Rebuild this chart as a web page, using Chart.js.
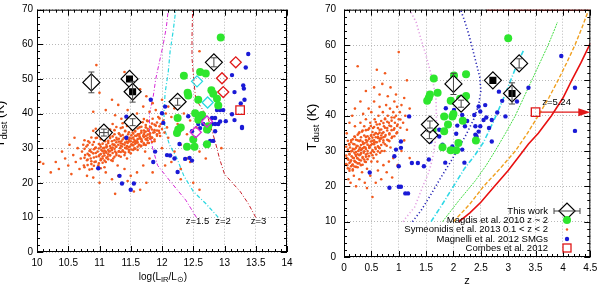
<!DOCTYPE html>
<html>
<head>
<meta charset="utf-8">
<script src="https://cdn.jsdelivr.net/npm/chart.js@4"></script>
<style>
  body { margin: 0; background: #fff; }
  canvas { position: absolute; top: 0; }
</style>
</head>
<body>
<canvas id="lumChart" width="300" height="284" style="left:0"></canvas>
<canvas id="zChart" width="300" height="284" style="left:300px"></canvas>
<script>
// ---------- tick labels ----------
const lumTicks = [10, 10.5, 11, 11.5, 12, 12.5, 13, 13.5, 14];
const zTicks = [0, 0.5, 1, 1.5, 2, 2.5, 3, 3.5, 4, 4.5];
const tempTicks = [0, 10, 20, 30, 40, 50, 60, 70];

// ---------- this work (shared dust temperatures) ----------
const workT = [49, 34.5, 50, 46.3, 37.5, 43.4, 54.8];
const workTErr = [3, 1, 0, 3, 1, 1, 1.3];
const workLum = [10.87, 11.07, 11.48, 11.53, 11.53, 12.25, 12.83];
const workLumErr = [0, 0.07, 0, 0, 0, 0, 0];
const workZ = [2.0, 1.56, 2.72, 3.07, 1.57, 2.14, 3.2];
const workFilled = [false, false, true, true, false, false, false];

// ---------- left panel: T vs log L_IR ----------
const symLum = [
  [10.22,23],[10.3,26],[10.35,24],[10.4,29],[10.45,27],[10.5,25],[10.52,31],[10.55,22.5],[10.58,28],[10.6,33],
  [10.62,26],[10.65,30],[10.05,26],[10.1,25.5],[10.68,24],
  [10.7,27],[10.72,29],[10.74,31],[10.75,25],[10.77,28],[10.79,30.5],[10.8,26.5],[10.82,32],[10.83,28],[10.85,29.5],
  [10.86,27],[10.88,24],[10.89,31],[10.9,28.5],[10.9,35],[10.92,26],[10.93,30],[10.95,27.5],[10.96,33],[10.97,29],[10.98,25],
  [11.0,28],[11.01,31],[11.02,26.5],[11.03,29.5],[11.04,33],[11.05,27],[11.06,30],[11.07,28.5],[11.08,24.5],[11.09,32],
  [11.1,29],[11.1,26],[11.11,35],[11.12,30.5],[11.13,27.5],[11.14,31.5],[11.15,29],[11.16,33.5],[11.17,28],[11.18,30],
  [11.19,26.5],[11.2,32],[11.2,29.5],[11.21,37],[11.22,27],[11.23,31],[11.24,34],[11.25,29],[11.26,30.5],[11.27,28],
  [11.28,32.5],[11.29,25],
  [11.3,31],[11.31,29],[11.32,34],[11.33,30],[11.34,27.5],[11.35,32],[11.36,30.5],[11.37,36],[11.38,29],[11.39,33],
  [11.4,31],[11.4,28],[11.41,35],[11.42,30],[11.43,32.5],[11.44,27],[11.45,31.5],[11.46,34],[11.47,29.5],[11.48,33],
  [11.49,30.5],[11.5,32],[11.5,28.5],[11.51,36.5],[11.52,31],[11.53,34.5],[11.54,29.5],[11.55,32.5],[11.56,30],[11.57,35],
  [11.58,31.5],[11.59,33.5],
  [11.6,32],[11.61,29.5],[11.62,34],[11.63,31],[11.64,36],[11.65,33],[11.66,30.5],[11.67,35],[11.68,32],[11.69,37.5],
  [11.7,33.5],[11.71,31],[11.72,34.5],[11.73,29],[11.74,36],[11.75,32.5],[11.76,38],[11.77,33],[11.78,35],[11.79,31.5],[11.8,34],
  [11.82,36],[11.84,33],[11.85,38.5],[11.86,34.5],[11.88,32],[11.9,36.5],[11.92,34],[11.94,39],[11.95,35],[11.97,33.5],
  [11.98,37],[12.0,35.5],[12.02,38],[12.04,34.5],[12.06,40],[12.08,36],[12.1,33],
  [10.9,40.5],[10.95,54],[11.0,46],[11.1,41],[11.2,44],[11.25,39.5],[11.3,42.5],[11.35,38.5],[11.45,41],[11.4,52],
  [11.55,44.5],[11.6,40],[11.65,47],[11.7,42],[11.75,45],[11.8,40.5],[11.85,43],[11.9,41],[12.0,44],[12.1,42],
  [12.15,39],[12.2,41.5],[12.25,37],[12.3,36],[12.35,40],[12.4,34],[12.45,38],[12.5,33],[12.6,58],[12.55,36],
  [12.3,31],[12.2,29],[12.4,27],[12.15,26],[12.0,30],[11.9,29],[11.8,27],[11.7,25],[11.6,23],[11.5,22],
  [11.45,20.5],[11.4,24],[11.3,22],[11.2,21],[11.1,23],[11.0,20],[10.9,21.5],[10.8,22],[11.65,18],[11.75,20],
  [11.55,17.5],[11.25,16.8],[11.85,23],[12.05,25],[12.3,24],[12.5,20],[12.6,18],[12.45,26],[12.6,29],[12.7,27],
  [12.3,21],[12.95,30]
];
// dense core of the same sample: [logL, temperatures at that logL]
const symLumCore = [
  [10.76,[24.5,27.2,29.8,32.3]],[10.81,[25.1,28.4,30.9,26.7]],[10.84,[23.8,27.9,31.6,29.2]],[10.87,[26.2,28.9,33.1,25.4]],
  [10.91,[27.3,29.7,24.9,31.8]],[10.94,[26.1,28.6,30.2,32.9,35.6]],[10.99,[27.7,29.9,25.6,31.2,33.8]],
  [11.02,[28.3,30.4,26.9,32.6,24.2]],[11.05,[29.1,31.3,27.6,33.9,25.8]],[11.08,[27.9,30.1,32.4,29.3,26.4]],
  [11.11,[28.7,31.0,33.6,27.2,30.3]],[11.14,[29.5,26.8,32.1,34.7,28.2]],[11.17,[30.6,27.9,32.9,29.1,35.4]],
  [11.21,[28.6,31.1,33.4,30.2,26.3]],[11.24,[29.8,32.3,27.5,35.2,31.0]],[11.27,[30.4,33.0,28.6,31.7,36.1]],
  [11.31,[29.1,31.9,34.3,27.8,32.7]],[11.34,[30.7,33.5,28.9,35.8,31.4]],[11.37,[31.2,29.4,33.8,32.5,37.2]],
  [11.41,[30.1,32.9,34.9,28.7,31.6]],[11.44,[31.8,29.9,33.3,36.4,30.6]],[11.47,[32.4,30.3,34.6,28.9,31.9]],
  [11.51,[31.1,33.7,35.5,29.6,32.8]],[11.54,[30.8,33.1,36.9,31.7,34.2]],[11.57,[32.1,29.8,34.8,31.3,33.6]],
  [11.61,[31.6,33.9,35.7,30.4,32.6]],[11.64,[32.8,30.9,34.1,37.3,33.4]],[11.67,[31.9,34.5,32.6,36.2,30.7]],
  [11.71,[33.2,31.4,35.1,34.0,38.4]],[11.74,[32.6,34.8,30.9,36.7,33.5]],[11.77,[33.9,32.2,35.6,31.5,37.8]],
  [11.81,[34.3,32.7,36.2,33.4]],[11.84,[33.1,35.4,31.8,37.1]],[11.88,[34.6,32.5,36.8,35.2]],
  [11.92,[35.1,33.6,37.4]],[11.96,[34.4,36.3,38.6]]
];
const magnelliLum = [
  [13.38,57.2],[13.34,53.3],[13.12,51.1],[13.3,48.1],[13.31,47.2],[13.16,46.2],[13.32,44.0],[13.26,42.9],[12.88,41.0],
  [12.93,41.0],[12.98,41.0],[13.12,39.8],[12.56,39.1],[12.64,38.7],[12.80,38.7],[12.85,38.7],[12.93,37.7],[12.58,37.0],
  [12.66,37.0],[12.80,37.0],[12.85,37.0],[12.90,37.0],[12.61,35.8],[12.72,35.8],[12.74,34.9],[12.85,34.9],[12.48,34.9],
  [13.28,35.8],[12.77,32.1],[12.82,32.1],[12.69,31.1],[12.37,26.9],[12.48,26.4],[12.13,27.9],[12.25,23.1],[10.98,24.2],
  [11.32,22.0],[11.36,19.8],[11.55,19.8],[11.5,18.0],[11.43,33.0],[11.43,39.1],[11.82,44.0],[11.89,29.0],[11.86,26.0],
  [12.05,42.0],[12.0,40.1],[12.08,28.0],[12.2,27.0],[12.44,27.2],[12.28,31.2],[12.42,39.2],[13.16,38.1],[13.02,37.8],
  [13.28,36.1],[12.02,37.3]
];
const magdisLum = [
  [12.94,62.0],[12.35,50.9],[12.61,52.0],[12.70,51.6],[12.41,46.0],[12.42,45.2],[12.79,46.7],[12.82,45.7],[12.88,44.3],
  [12.58,44.0],[12.53,40.1],[12.64,39.6],[12.25,38.7],[12.26,35.4],[12.24,34.4],[12.72,35.4],[12.74,36.3],[12.5,32.5],
  [12.4,30.4],[12.52,30.4],[12.72,31.1],[12.58,38.2],[12.9,42.3],[12.3,36]
];
const cyanLum = [[12.56,49.3],[12.73,43.2]];
const magentaLum = [[12.54,34.6],[12.72,37.7]];
const redLum = [[13.18,54.8],[12.96,50.2],[12.98,46.2]];
const combesLum = [[13.25,41]];
const curveZ15 = [[12.55,10],[12.38,15],[12.15,20],[11.93,25],[11.85,30],[11.8,35],[11.8,40],[11.86,45],[11.9,50],[11.96,55],[12.02,60],[12.07,65],[12.1,70]];
const curveZ2 = [[12.9,10],[12.7,14],[12.5,17.5],[12.35,22],[12.24,27],[12.12,31],[12.05,35],[12.03,40],[12.05,46],[12.1,52],[12.13,58],[12.18,64],[12.22,70]];
const curveZ3 = [[13.5,10],[13.38,14],[13.25,17.5],[13.1,20.5],[13.0,22.5],[12.92,27],[12.85,32],[12.74,38.5],[12.62,42],[12.54,44],[12.51,49.5],[12.48,56],[12.48,62],[12.49,70]];
const curveLabels = [['z=1.5', 12.38, 8.8], ['z=2', 12.85, 8.8], ['z=3', 13.42, 8.8]];

// ---------- right panel: T vs z ----------
const symZ = [
  [0.05,28],[0.06,26],[0.07,30],[0.08,27.5],[0.09,32],[0.1,25],[0.1,29],[0.11,31],[0.12,27],[0.13,33],[0.14,28.5],
  [0.15,26],[0.15,30],[0.16,24.5],[0.17,32],[0.18,28],[0.19,30.5],[0.2,27],[0.2,34],[0.21,29],[0.22,25.5],[0.23,31.5],
  [0.24,28],[0.25,33],[0.25,26.5],[0.26,30],[0.27,35],[0.28,27.5],[0.29,31],[0.3,29],
  [0.3,33],[0.31,26],[0.32,30.5],[0.33,35.5],[0.34,28],[0.35,32],[0.36,29.5],[0.37,37],[0.38,27],[0.39,31],[0.4,34],
  [0.4,29],[0.41,32.5],[0.42,25],[0.43,30],[0.44,36],[0.45,28.5],[0.46,33.5],[0.47,31],[0.48,38],[0.49,29.5],[0.5,34.5],[0.5,27],
  [0.51,32],[0.52,30],[0.53,36.5],[0.54,28],[0.55,33],[0.56,39],[0.57,31],[0.58,35],[0.59,29],[0.6,37.5],[0.6,32.5],
  [0.61,27],[0.62,34],[0.63,40],[0.64,31],[0.65,36],[0.66,29.5],[0.67,33.5],[0.68,38.5],[0.69,30],[0.7,35],
  [0.71,41],[0.72,33],[0.73,37],[0.74,30],[0.75,39],[0.76,34.5],[0.77,43],[0.78,31.5],[0.79,36.5],[0.8,40],[0.81,33],
  [0.82,38],[0.83,35],[0.84,42],[0.85,31],[0.86,37],[0.87,39.5],[0.88,34],[0.9,41],[0.91,36],[0.92,44],[0.93,38],
  [0.95,40],[0.96,35],[0.97,42.5],[0.98,37.5],[1.0,39],[1.02,41],[1.05,43],[1.08,38],[1.1,45],[1.12,40],[1.15,36],[1.2,42],
  [0.05,35],[0.08,22],[0.1,38],[0.12,21],[0.15,40],[0.18,23],[0.2,42],[0.22,20],[0.25,54],[0.28,22],[0.3,44],[0.33,24],
  [0.35,40.5],[0.38,21],[0.4,47],[0.42,19.5],[0.45,42],[0.48,23],[0.5,41],[0.52,17],[0.55,44],[0.58,21],[0.6,53],
  [0.62,24.5],[0.65,46],[0.68,22],[0.7,49],[0.72,26],[0.75,52],[0.78,24],[0.8,45.5],[0.82,27],[0.85,48],[0.88,22.5],
  [0.9,28],[0.95,46],[0.98,26],[1.0,58],[1.05,30],[1.1,33],[1.15,50],[1.2,28],[0.55,48],[0.65,42.5],[0.4,39],[0.3,38],[0.2,37]
];
// dense core: [z, temperatures at that z]
const symZCore = [
  [0.04,[26.3,28.7,31.2]],[0.07,[25.1,27.8,30.4,32.9]],[0.1,[26.6,29.2,31.8,24.4]],[0.13,[27.4,29.9,25.7,32.5]],
  [0.16,[28.1,30.6,26.2,33.3,24.8]],[0.19,[27.2,29.5,31.9,25.6,34.1]],[0.22,[28.6,30.9,26.8,33.2,29.7]],
  [0.25,[27.9,31.4,25.4,29.1,34.6]],[0.28,[28.8,30.5,32.8,26.5,35.3]],[0.31,[29.4,31.7,27.3,33.9,30.2]],
  [0.34,[28.3,30.8,32.6,26.1,35.8]],[0.37,[29.9,32.2,27.6,34.4,31.1]],[0.4,[30.6,28.4,33.1,35.9,26.9]],
  [0.43,[29.3,31.8,34.2,27.7,32.9]],[0.46,[30.9,33.5,28.6,36.4,31.4]],[0.49,[31.6,29.4,34.3,32.7,37.1]],
  [0.52,[30.3,32.9,35.4,28.8,33.8]],[0.55,[31.9,34.6,29.7,36.8,32.4]],[0.58,[32.5,30.6,35.1,33.9,38.2]],
  [0.62,[31.3,33.7,36.5,29.9,34.8]],[0.65,[32.8,35.2,30.8,37.6,33.5]],[0.68,[33.6,31.7,36.1,34.4]],
  [0.72,[32.4,35.3,37.9,33.9]],[0.75,[34.1,31.9,36.6,39.2]],[0.79,[33.2,35.8,38.3]],[0.83,[34.7,37.2,32.8]],
  [0.87,[35.9,38.6,33.7]],[0.92,[36.4,34.2,39.5]],[0.97,[37.1,35.3]],[1.03,[36.6,38.9]]
];
const magnelliZ = [
  [3.97,56.9],[4.22,47.9],[4.22,35.7],[3.37,47.9],[2.89,44.2],[3.16,44.0],[2.95,39.8],[2.80,40.9],[2.70,38.8],[2.83,46.8],
  [2.55,38.8],[2.49,41.2],[2.46,42.6],[2.49,37.0],[2.40,37.0],[2.46,35.5],[2.40,34.6],[2.70,32.7],[2.25,38.5],[2.16,40.2],
  [2.07,37.2],[2.21,37.0],[2.01,41.6],[1.86,42.1],[1.86,39.8],[1.74,36.0],[1.74,34.1],[1.80,31.8],[1.98,31.3],[2.16,30.4],
  [1.85,26.7],[2.20,26.7],[1.58,32.7],[1.55,27.6],[1.46,25.7],[1.35,26.6],[1.24,26.6],[1.04,30.9],[1.04,32.7],[0.95,30.4],
  [1.0,25.7],[0.92,28.5],[0.83,19.6],[1.0,19.9],[1.04,19.9],[1.12,18.0],[1.17,18.0],[0.47,23.9],[1.19,39.8],[2.05,34.9],
  [2.38,40.2],[2.42,34.2],[2.6,39.5],[2.65,36.5],[2.58,43.0]
];
const magdisZ = [
  [1.64,50.5],[2.01,51.4],[2.23,51.7],[1.55,45.1],[1.52,44.2],[1.71,46.5],[1.95,44.2],[2.23,45.6],[2.2,43.9],[1.83,39.8],
  [1.98,39.8],[2.17,38.6],[1.83,35.6],[1.80,31.1],[1.95,30.2],[2.05,30.2],[2.09,32.3],[2.41,33.0],[3.0,61.9],[2.0,40.5],
  [1.62,36.0],[1.9,37.5],[2.12,44.8],[1.57,46]
];
const combesZ = [[3.5,41]];
const arrowFrom = [3.5, 41];
const arrowTo = [4.5, 41];
const arrowLabel = ['z=5.24', 3.62, 43];
const limPink = [[1.08,10],[1.14,11.3],[1.29,14.1],[1.44,20],[1.55,24],[1.62,28],[1.67,33],[1.69,39],[1.68,45],[1.62,50],[1.5,57],[1.4,62],[1.32,66.4],[1.2,70]];
const limBlue = [[1.25,10],[1.41,13.2],[1.6,18],[1.77,22.5],[1.95,27],[2.1,31],[2.23,34.6],[2.37,39],[2.46,43],[2.5,47],[2.48,51],[2.38,57],[2.28,63],[2.2,67],[2.13,70]];
const limCyan = [[1.59,10],[1.8,15],[2.0,20],[2.2,25],[2.4,29],[2.55,32.5],[2.72,38],[2.89,44],[3.02,49],[3.13,53.3],[3.22,56.5],[3.28,58.5]];
const limGreen = [[1.8,10],[2.1,16],[2.4,21.6],[2.6,26],[2.76,30],[2.95,35],[3.13,40],[3.28,45],[3.43,50],[3.58,55],[3.73,60],[3.85,64.5],[3.9,66.5]];
const limOrange = [[2.0,10],[2.3,15],[2.55,20],[2.85,25],[3.13,30],[3.35,35],[3.55,40],[3.74,45],[3.91,50],[4.07,55],[4.22,60],[4.35,65],[4.47,70]];
const limRed = [[2.1,10],[2.3,12.5],[2.5,15.5],[2.75,20],[3.0,24.5],[3.2,28.5],[3.37,32],[3.55,35],[3.79,40],[4.0,45],[4.16,50],[4.33,55],[4.5,60.5]];
const limRedTop = [[2.6,70],[4.5,70]];
const legendLabels = ['This work', 'Magdis et al. 2010 z ~ 2', 'Symeonidis et al. 2013 0.1 < z < 2', 'Magnelli et al. 2012 SMGs', 'Combes et al. 2012'];

// ---------- colours ----------
const ORANGE = '#f25a1e', BLUE = '#1a1ad6', GREEN = '#2ee62e';
const FONT = '"Liberation Sans", Arial, sans-serif';

const pts = arr => arr.map(([x, y]) => ({ x, y }));
const zip = (xs, ys) => xs.map((x, i) => ({ x, y: ys[i] }));
const unfold = cols => cols.flatMap(([x, ts]) => ts.map(y => [x, y]));

function diamond(ctx, x, y, r) {
  ctx.beginPath();
  ctx.moveTo(x - r, y); ctx.lineTo(x, y - r); ctx.lineTo(x + r, y); ctx.lineTo(x, y + r);
  ctx.closePath();
}

function line(ctx, x1, y1, x2, y2) {
  ctx.beginPath(); ctx.moveTo(x1, y1); ctx.lineTo(x2, y2); ctx.stroke();
}

// text made of pieces: [text, size, dy]
function richText(ctx, parts, x, y, rot) {
  ctx.save();
  ctx.translate(x, y);
  if (rot) ctx.rotate(rot);
  let w = 0;
  parts.forEach(p => { ctx.font = p[1] + 'px ' + FONT; w += ctx.measureText(p[0]).width; });
  let cx = -w / 2;
  ctx.fillStyle = '#000';
  ctx.textAlign = 'left';
  ctx.textBaseline = 'alphabetic';
  parts.forEach(p => {
    ctx.font = p[1] + 'px ' + FONT;
    ctx.fillText(p[0], cx, p[2] || 0);
    cx += ctx.measureText(p[0]).width;
  });
  ctx.restore();
}

// frame, inward ticks, error bars and extra text
function makeFrame(cfg) {
  return {
    id: 'frame',
    afterDatasetsDraw(chart) {
      const { ctx, scales: { x, y } } = chart;
      ctx.save();
      ctx.strokeStyle = '#444';
      ctx.lineWidth = 1;
      cfg.errX.forEach((xv, i) => {
        const px = x.getPixelForValue(xv), py = y.getPixelForValue(workT[i]);
        const te = workTErr[i], xe = cfg.errXErr[i];
        if (te) {
          const y1 = y.getPixelForValue(workT[i] - te), y2 = y.getPixelForValue(workT[i] + te);
          line(ctx, px, y1, px, y2);
          line(ctx, px - 3, y1, px + 3, y1);
          line(ctx, px - 3, y2, px + 3, y2);
        }
        if (xe) {
          const x1 = x.getPixelForValue(xv - xe), x2 = x.getPixelForValue(xv + xe);
          line(ctx, x1, py, x2, py);
          line(ctx, x1, py - 3, x1, py + 3);
          line(ctx, x2, py - 3, x2, py + 3);
        }
      });
      ctx.restore();
    },
    afterDraw(chart) {
      const { ctx, chartArea: a, scales: { x, y } } = chart;
      ctx.save();
      ctx.strokeStyle = '#000';
      ctx.lineWidth = 1;
      ctx.strokeRect(a.left + 0.5, a.top + 0.5, a.right - a.left - 1, a.bottom - a.top - 1);
      const n = Math.round((x.max - x.min) / cfg.xMinor);
      for (let i = 0; i <= n; i++) {
        const v = x.min + i * cfg.xMinor;
        const len = i % Math.round(cfg.xMajor / cfg.xMinor) === 0 ? 6 : 3;
        const px = Math.round(x.getPixelForValue(v)) + 0.5;
        line(ctx, px, a.bottom, px, a.bottom - len);
        line(ctx, px, a.top, px, a.top + len);
      }
      const m = Math.round((y.max - y.min) / 2);
      for (let i = 0; i <= m; i++) {
        const v = y.min + i * 2;
        const len = v % 10 === 0 ? 6 : 3;
        const py = Math.round(y.getPixelForValue(v)) + 0.5;
        line(ctx, a.left, py, a.left + len, py);
        line(ctx, a.right, py, a.right - len, py);
      }
      ctx.restore();
      cfg.extra(ctx, chart);
    }
  };
}

function axes(xmin, xmax, ticks, yWidth, xHeight, yPad) {
  return {
    x: {
      type: 'linear', min: xmin, max: xmax,
      afterBuildTicks: s => { s.ticks = ticks.map(v => ({ value: v })); },
      afterFit: s => { s.height = xHeight; s.paddingLeft = 0; s.paddingRight = 0; },
      ticks: { font: { size: 10, family: FONT }, color: '#000', padding: 5, maxRotation: 0, autoSkip: false, callback: v => String(v) },
      grid: { color: '#b8b8b8', lineWidth: 1, drawTicks: false },
      border: { display: false, dash: [1, 2] }
    },
    y: {
      type: 'linear', min: 0, max: 70,
      afterBuildTicks: s => { s.ticks = tempTicks.map(v => ({ value: v })); },
      afterFit: s => { s.width = yWidth; s.paddingTop = 0; s.paddingBottom = 0; },
      ticks: { font: { size: 10, family: FONT }, color: '#000', padding: yPad, autoSkip: false, callback: v => String(v) },
      grid: { color: '#b8b8b8', lineWidth: 1, drawTicks: false },
      border: { display: false, dash: [1, 2] }
    }
  };
}

const common = {
  responsive: false,
  animation: false,
  events: [],
  plugins: { legend: { display: false }, tooltip: { enabled: false } }
};

function curve(data, color, width, dash, order) {
  return { data: pts(data), showLine: true, pointRadius: 0, borderColor: color, borderWidth: width, borderDash: dash, order: order };
}
function dots(data, color, r, order) {
  return { data: pts(data), pointRadius: r, pointBackgroundColor: color, pointBorderWidth: 0, order: order };
}
function open(data, style, color, r, order) {
  return { data: pts(data), pointStyle: style, pointRadius: r, pointBackgroundColor: 'rgba(255,255,255,0)', pointBorderColor: color, pointBorderWidth: 1.3, order: order };
}
function workSets(xs) {
  return [
    { data: zip(xs, workT), pointStyle: 'rectRot', pointRadius: 8.5, pointBackgroundColor: '#fff', pointBorderColor: '#000', pointBorderWidth: 1.2, order: 2 },
    { data: zip(xs, workT).filter((p, i) => workFilled[i]), pointStyle: 'rect', pointRadius: 5, pointBackgroundColor: '#000', pointBorderWidth: 0, order: 1 }
  ];
}

// ---------- left chart ----------
new Chart(document.getElementById('lumChart'), {
  type: 'scatter',
  data: {
    datasets: [
      curve(curveZ15, '#d62ad6', 1, [4, 2, 1, 2], 10),
      curve(curveZ2, '#2ad8e0', 1.2, [4, 2, 1, 2], 10),
      curve(curveZ3, '#c8202a', 1, [4, 2, 1, 2], 10),
      dots(symLum.concat(unfold(symLumCore)), ORANGE, 1.3, 9),
      dots(magnelliLum, BLUE, 2.2, 8),
      dots(magdisLum, GREEN, 4, 7),
      open(cyanLum, 'rectRot', '#2ad8e0', 5.5, 6),
      open(magentaLum, 'rectRot', '#d62ad6', 5.5, 6),
      open(redLum, 'rectRot', '#e01818', 5.5, 6),
      open(combesLum, 'rect', '#e01818', 6, 5),
      ...workSets(workLum)
    ]
  },
  options: {
    ...common,
    layout: { padding: { left: 0, right: 13, top: 4, bottom: 0 } },
    scales: axes(10, 14, lumTicks, 37, 32, 4)
  },
  plugins: [makeFrame({
    xMinor: 0.1, xMajor: 0.5, errX: workLum, errXErr: workLumErr,
    extra(ctx, chart) {
      const { x, y } = chart.scales;
      ctx.save();
      ctx.fillStyle = '#000';
      ctx.font = '9.5px ' + FONT;
      ctx.textBaseline = 'middle';
      curveLabels.forEach(([t, lx, ly]) => ctx.fillText(t, x.getPixelForValue(lx), y.getPixelForValue(ly)));
      ctx.restore();
      richText(ctx, [['log(L', 10], ['IR', 7.5, 2], ['/L', 10], ['\u2299', 7.5, 2], [')', 10]], 163, 280);
      richText(ctx, [['T', 13], ['dust', 9.5, 3], [' (K)', 13]], 4, 124, -Math.PI / 2);
    }
  })]
});

// ---------- right chart ----------
new Chart(document.getElementById('zChart'), {
  type: 'scatter',
  data: {
    datasets: [
      curve(limPink, '#e2a0e2', 1.6, [1.2, 2.4], 10),
      curve(limBlue, '#2424b4', 1.6, [1.2, 2.4], 10),
      curve(limCyan, '#30d8e6', 1.6, [5, 2, 1, 2], 10),
      curve(limGreen, '#44dd44', 1, [2, 1], 10),
      curve(limOrange, '#f0a020', 1.4, [4, 2], 10),
      curve(limRed, '#e81010', 1.6, [], 10),
      curve(limRedTop, '#e81010', 2, [], 10),
      dots(symZ.concat(unfold(symZCore)), ORANGE, 1.3, 9),
      dots(magnelliZ, BLUE, 2.2, 8),
      dots(magdisZ, GREEN, 4, 7),
      open(combesZ, 'rect', '#e01818', 6, 5),
      ...workSets(workZ)
    ]
  },
  options: {
    ...common,
    layout: { padding: { left: 0, right: 8, top: 7, bottom: 0 } },
    scales: axes(0, 4.5, zTicks, 44, 27, 8)
  },
  plugins: [makeFrame({
    xMinor: 0.1, xMajor: 0.5, errX: workZ, errXErr: workZ.map(() => 0),
    extra(ctx, chart) {
      const { x, y } = chart.scales;
      // arrow towards z = 5.24
      const ax1 = x.getPixelForValue(arrowFrom[0]) + 5, ay = y.getPixelForValue(arrowFrom[1]);
      const ax2 = x.getPixelForValue(arrowTo[0]);
      ctx.save();
      ctx.strokeStyle = '#e01818';
      ctx.fillStyle = '#e01818';
      ctx.lineWidth = 1.2;
      line(ctx, ax1, ay, ax2 - 8, ay);
      ctx.beginPath();
      ctx.moveTo(ax2, ay); ctx.lineTo(ax2 - 12, ay - 4); ctx.lineTo(ax2 - 12, ay + 4);
      ctx.closePath(); ctx.fill();
      ctx.fillStyle = '#000';
      ctx.font = '9.5px ' + FONT;
      ctx.textBaseline = 'alphabetic';
      ctx.fillText(arrowLabel[0], x.getPixelForValue(arrowLabel[1]), y.getPixelForValue(arrowLabel[2]));

      // legend
      const tx = 248, sx = 267, rows = [211, 220, 229.5, 239, 248];
      ctx.textAlign = 'right';
      ctx.textBaseline = 'middle';
      legendLabels.forEach((t, i) => ctx.fillText(t, tx, rows[i]));
      ctx.strokeStyle = '#444'; ctx.lineWidth = 1;
      line(ctx, sx - 13, rows[0], sx + 13, rows[0]);
      line(ctx, sx - 13, rows[0] - 3, sx - 13, rows[0] + 3);
      line(ctx, sx + 13, rows[0] - 3, sx + 13, rows[0] + 3);
      ctx.fillStyle = '#fff';
      diamond(ctx, sx, rows[0], 8); ctx.fill();
      ctx.strokeStyle = '#000'; ctx.lineWidth = 1.2; ctx.stroke();
      ctx.strokeStyle = '#444'; ctx.lineWidth = 1;
      line(ctx, sx - 8, rows[0], sx + 8, rows[0]);
      ctx.fillStyle = GREEN;
      ctx.beginPath(); ctx.arc(sx, rows[1], 4, 0, Math.PI * 2); ctx.fill();
      ctx.fillStyle = ORANGE;
      ctx.beginPath(); ctx.arc(sx, rows[2], 1.2, 0, Math.PI * 2); ctx.fill();
      ctx.fillStyle = BLUE;
      ctx.beginPath(); ctx.arc(sx, rows[3], 2.2, 0, Math.PI * 2); ctx.fill();
      ctx.strokeStyle = '#e01818'; ctx.lineWidth = 1.3;
      ctx.strokeRect(sx - 4, rows[4] - 4, 8, 8);
      ctx.restore();

      richText(ctx, [['z', 11]], 167, 284);
      richText(ctx, [['T', 13], ['dust', 9.5, 3], [' (K)', 13]], 16, 127, -Math.PI / 2);
    }
  })]
});
</script>
</body>
</html>
